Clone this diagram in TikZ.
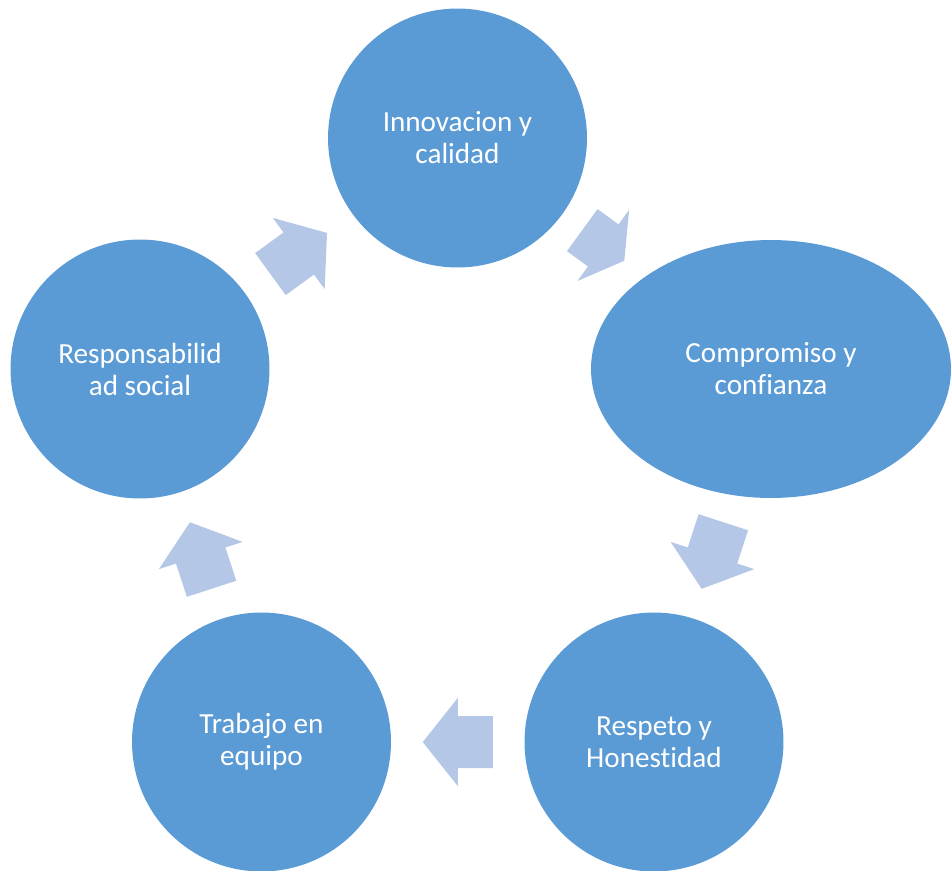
\documentclass[tikz,border=0pt]{standalone}
\usepackage{fontspec}
\setmainfont{Carlito}[Ligatures={NoCommon}]
\usepackage{xcolor}
\usetikzlibrary{shapes.geometric,calc}

\definecolor{valuefill}{HTML}{5B9BD5}
\definecolor{arrowfill}{HTML}{B4C7E7}

\tikzset{
  value/.style={circle,fill=valuefill,draw=none,minimum size=5.18cm,inner sep=0pt,
    text=white,align=center,font=\fontsize{16.6}{18.2}\selectfont},
  cyclearrow/.pic={
    \fill[arrowfill](-\arrowlen/2,-26)--(0,-26)--(0,-44)--(\arrowlen/2,0)--(0,44)--(0,26)--(-\arrowlen/2,26)--cycle;
  }
}
\def\arrowlen{70}

\begin{document}
\begin{tikzpicture}[x=0.02cm,y=-0.02cm]
		\useasboundingbox(0,0)rectangle(951,870);
		\node[value](innov)at(457.5,138){Innovacion y\\calidad};
		\node[value,ellipse,minimum width=7.2cm,minimum height=5.16cm](compr)at(771,369){Compromiso y\\confianza};
		\node[value](respeto)at(654,742){Respeto y\\Honestidad};
		\node[value](trabajo)at(261.5,742){Trabajo en\\equipo};
		\node[value](resp)at(140,369){Responsabilid\\ad social};
		\path($(resp)!0.5!(innov)$)pic[rotate=36]{cyclearrow};
		\def\arrowlen{52}
		\path($(innov)!0.465!(compr)$)pic[rotate=-36]{cyclearrow};
		\def\arrowlen{70}
		\path($(compr)!0.5!(respeto)$)pic[rotate=-108]{cyclearrow};
		\path($(respeto)!0.5!(trabajo)$)pic[rotate=180]{cyclearrow};
		\path($(trabajo)!0.5!(resp)$)pic[rotate=108]{cyclearrow};
		\end{tikzpicture}
\end{document}
